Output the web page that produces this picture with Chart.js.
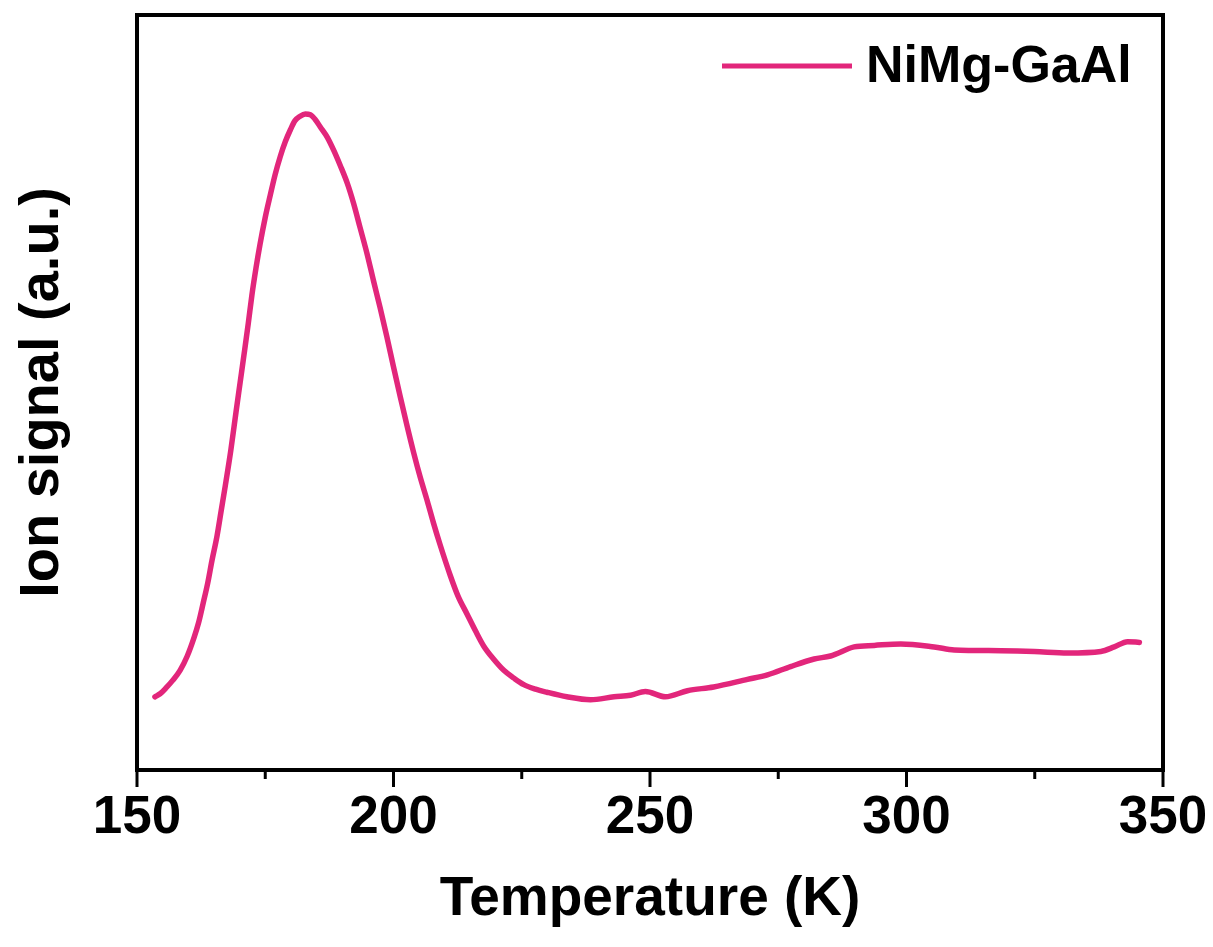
<!DOCTYPE html>
<html>
<head>
<meta charset="utf-8">
<title>NiMg-GaAl</title>
<script src="https://cdn.jsdelivr.net/npm/chart.js@4/dist/chart.umd.min.js"></script>
<style>
  body { margin: 0; background: #fff; }
  canvas { display: block; }
</style>
</head>
<body>
<canvas id="chart" width="1213" height="947"></canvas>
<script>
// temperature (K)
const temperature = [
  153.5, 154.5, 155.7, 157.0, 158.4, 159.8, 161.1, 162.0, 162.9, 163.8,
  164.6, 165.6, 166.4, 167.2, 168.3, 169.3, 170.1, 170.9, 171.7, 172.4,
  173.2, 174.0, 175.0, 176.0, 176.9, 177.9, 178.9, 179.9, 180.8, 181.8,
  182.8, 183.8, 184.7, 185.7, 187.1, 188.4, 189.6, 191.0, 192.2, 193.5,
  194.8, 196.1, 197.4, 198.7, 200.0, 201.3, 202.6, 203.9, 205.2, 206.6,
  207.8, 209.1, 211.1, 212.6, 214.3, 216.0, 217.6, 219.5, 221.5, 223.4,
  225.4, 227.7, 229.9, 233.8, 238.4, 243.0, 246.2, 249.1, 253.0, 257.3,
  262.4, 269.0, 272.9, 277.4, 282.0, 285.2, 289.8, 293.7, 298.9, 305.4,
  309.3, 318.4, 324.9, 331.4, 337.9, 340.5, 343.1, 345.4];
// ion signal, arbitrary units (0-100 over the frame height)
const ionSignal = [
  9.7, 10.1, 10.9, 11.9, 13.2, 15.1, 17.5, 19.5, 22.1, 24.8,
  27.7, 31.0, 34.3, 37.6, 42.4, 47.4, 51.3, 55.2, 59.2, 62.9,
  66.5, 69.7, 73.2, 76.2, 78.8, 81.2, 83.2, 84.8, 86.0, 86.6,
  86.9, 86.8, 86.2, 85.2, 83.8, 82.0, 80.1, 77.7, 75.1, 71.8,
  68.5, 64.8, 61.2, 57.4, 53.4, 49.5, 45.7, 42.1, 38.8, 35.6,
  32.7, 29.8, 25.7, 23.0, 20.7, 18.4, 16.4, 14.7, 13.2, 12.2,
  11.3, 10.7, 10.3, 9.7, 9.3, 9.7, 9.9, 10.4, 9.7, 10.5,
  11.0, 12.0, 12.6, 13.7, 14.7, 15.1, 16.3, 16.5, 16.7, 16.3,
  15.9, 15.8, 15.7, 15.5, 15.7, 16.3, 17.0, 16.9];
const xTicks = [150, 200, 250, 300, 350];
const seriesName = 'NiMg-GaAl';

const lineColor = '#E2267B';
const fontFamily = "'Liberation Sans', Arial, sans-serif";

// frame, tick marks and the legend drawn on top
const framePlugin = {
  id: 'frame',
  afterDraw(chart) {
    const { ctx, chartArea: a, scales: { x } } = chart;
    ctx.save();
    ctx.strokeStyle = '#000';
    ctx.lineWidth = 4;
    ctx.strokeRect(a.left, a.top, a.right - a.left, a.bottom - a.top);
    ctx.lineWidth = 3;
    x.ticks.forEach(t => {
      const px = x.getPixelForValue(t.value);
      const len = xTicks.includes(t.value) ? 17 : 9;
      ctx.beginPath();
      ctx.moveTo(px, a.bottom);
      ctx.lineTo(px, a.bottom + len);
      ctx.stroke();
    });
    // legend
    const ds = chart.data.datasets[0];
    ctx.strokeStyle = ds.borderColor;
    ctx.lineWidth = 5;
    ctx.beginPath();
    ctx.moveTo(722, 66);
    ctx.lineTo(852, 66);
    ctx.stroke();
    ctx.fillStyle = '#000';
    ctx.font = 'bold 52px ' + fontFamily;
    ctx.textBaseline = 'middle';
    ctx.fillText(ds.label, 866, 68);
    ctx.restore();
  }
};

new Chart(document.getElementById('chart'), {
  type: 'line',
  data: {
    labels: temperature,
    datasets: [{
      label: seriesName,
      data: temperature.map((t, i) => ({ x: t, y: ionSignal[i] })),
      borderColor: lineColor,
      borderWidth: 5.5,
      pointRadius: 0,
      cubicInterpolationMode: 'monotone',
      borderCapStyle: 'round',
      borderJoinStyle: 'round',
      fill: false
    }]
  },
  options: {
    responsive: false,
    animation: false,
    layout: { padding: { left: 0, top: 15, right: 50, bottom: 0 } },
    plugins: { legend: { display: false }, tooltip: { enabled: false } },
    scales: {
      x: {
        type: 'linear',
        min: 150,
        max: 350,
        afterFit: s => { s.height = 177; s.paddingLeft = 0; s.paddingRight = 0; },
        grid: { display: false },
        border: { display: false },
        ticks: {
          stepSize: 25,
          autoSkip: false,
          maxRotation: 0,
          padding: 9,
          color: '#000',
          font: { family: fontFamily, size: 53, weight: 'bold' },
          callback: v => xTicks.includes(v) ? v : ''
        },
        title: {
          display: true,
          text: 'Temperature (K)',
          color: '#000',
          font: { family: fontFamily, size: 55, weight: 'bold', lineHeight: 1.2 },
          padding: { top: 0, bottom: 14 }
        }
      },
      y: {
        min: 0,
        max: 100,
        afterFit: s => { s.width = 137; s.paddingTop = 0; s.paddingBottom = 0; },
        grid: { display: false },
        border: { display: false },
        ticks: { display: false },
        title: {
          display: true,
          text: 'Ion signal (a.u.)',
          color: '#000',
          font: { family: fontFamily, size: 56, weight: 'bold', lineHeight: 1.2 },
          padding: { top: 9, bottom: 0 }
        }
      }
    }
  },
  plugins: [framePlugin]
});
</script>
</body>
</html>
